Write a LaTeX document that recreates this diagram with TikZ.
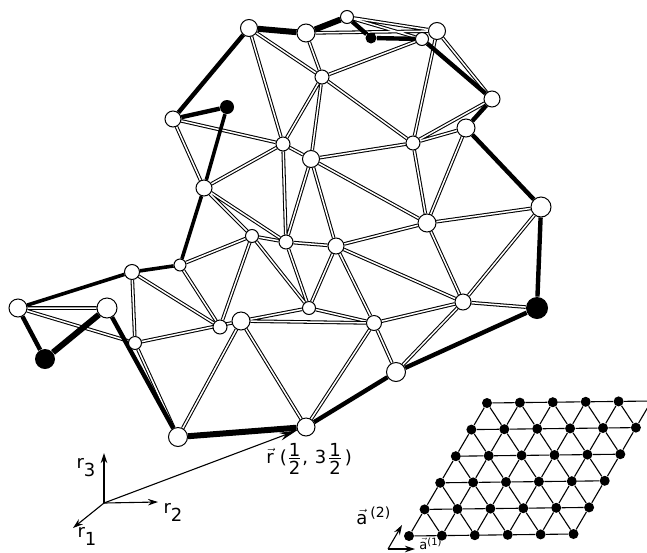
\documentclass[tikz,border=0pt]{standalone}
\usepackage{fontspec}
\setsansfont{DejaVu Sans}
\usetikzlibrary{arrows.meta, positioning, backgrounds}
\newcommand\half{$\vcenter{\offinterlineskip\ialign{\hfil##\hfil\cr 1\cr\noalign{\kern1.5pt\hrule height 1pt\kern1.5pt}2\cr}}$}
\newcommand\sublab[2]{#1\raisebox{-8pt}{#2}}
\tikzset{
  every picture/.style={font=\sffamily, line width=0.8pt},
  atom/.style={circle, draw, fill=white, inner sep=0pt, line width=1pt, minimum size=#1},
  solid/.style={circle, fill=black, inner sep=0pt, minimum size=#1},
  dot/.style={circle, fill=black, inner sep=0pt, minimum size=10pt},
  rod/.style={draw=black, line width=1.05pt, double=white, double distance=1.5pt},
  rim/.style={draw=black, line width=#1},
  rim/.default=4.4pt,
  bond/.style={draw=black, line width=1.1pt},
  arrow/.style={-{Stealth[length=10pt, width=6.5pt]}, draw=black, line width=1.1pt},
  bigarrow/.style={-{Stealth[length=18pt, width=8pt]}, draw=black, line width=1.1pt},
  note/.style={font=\sffamily\fontsize{18}{21}\selectfont, inner sep=0pt},
  smallnote/.style={font=\sffamily\fontsize{13}{15}\selectfont, inner sep=0pt},
}
\begin{document}
\begin{tikzpicture}[x=1pt, y=-1pt]
  \useasboundingbox (0,0) rectangle (647,552);
  \foreach \name/\x/\y/\d in {t1/249/28/17, t2/306/33/18, t3/347/17/13, t4/437/31/17, t5/422/39/13,
    c1/322/77/14, c2/283/144/14, c3/311/159/17, c4/413/143/14, c5/427/223/18, c6/336/246/16,
    c7/463/302/16, c8/374/323/15, c9/309/308/13, e1/492/99/16, e2/466/128/18, e3/541/207/20,
    s1/396/372/19, s2/306/427/18, s3/178/437/19, m1/252/236/13, m2/286/242/14, m3/241/321/18,
    m4/220/327/14, w1/173/119/16, w2/204/188/16, w3/180/265/12, w4/132/272/15, w5/135/343/13,
    w6/107/308/20, w7/18/308/18}
    \node[atom=\d pt] (\name) at (\x,\y) {};
  \foreach \name/\x/\y/\d in {b1/371/38/11, b2/227/107/14, b3/537/308/22, b4/45/359/20}
    \node[solid=\d pt] (\name) at (\x,\y) {};
  \foreach \i in {0,...,5}
    \foreach \j in {0,...,5} {
      \ifnum\numexpr\i+\j\relax=10
        \coordinate (L\i\j) at ({409+32.9*\i+15.6*\j},{536-0.4*\i-26.6*\j});
      \else
        \node[dot] (L\i\j) at ({409+32.9*\i+15.6*\j},{536-0.4*\i-26.6*\j}) {};
      \fi
    }
  \begin{scope}[on background layer]
    \draw[rod] (t1) -- (c1) (t1) -- (c2) (t2) -- (t4) (t2) -- (c1) (t3) -- (t4) (t3) -- (t5)
      (t5) -- (c1) (t4) -- (c4) (t4) -- (e1) (c1) -- (c4) (c1) -- (c2) (c1) -- (c3);
    \draw[rod] (w1) -- (c2) (w1) -- (w2) (c2) -- (c3) (c2) -- (w2) (c2) -- (m2) (c3) -- (m2)
      (c3) -- (c6) (c3) -- (c5) (c3) -- (c4) (c4) -- (e1) (c4) -- (e2) (c4) -- (c5) (e2) -- (c5);
    \draw[rod] (w2) -- (m1) (w2) -- (m2) (c5) -- (e3) (c5) -- (c6) (c5) -- (c7) (e3) -- (c7)
      (c7) -- (b3) (c7) -- (c6) (c7) -- (c8) (c7) -- (s1) (c8) -- (s1) (c8) -- (c6) (c8) -- (c9);
    \draw[rod] (c8) -- (m3) (c8) -- (s2) (c6) -- (m2) (c6) -- (c9) (m2) -- (m1) (m2) -- (c9)
      (m1) -- (c9) (m1) -- (w3) (m1) -- (m4) (m3) -- (c9) (m3) -- (s3) (m3) -- (s2) (m3) -- (w5);
    \draw[rod] (w3) -- (m4) (w4) -- (m4) (w4) -- (w5) (w5) -- (w7) (w7) -- (w6) (w5) -- (s3);
    \draw[rim=6pt] (t1) -- (t2) (t2) -- (t3) (b4) -- (w6) (s3) -- (s2);
    \draw[rim] (b2) -- (w1) (w1) -- (t1) (t3) -- (b1) (b1) -- (t5) (t5) -- (e1) (e1) -- (e2)
      (e2) -- (e3) (e3) -- (b3) (b3) -- (s1) (s1) -- (s2) (s3) -- (w6) (b4) -- (w7);
    \draw[rim=3.6pt] (b2) -- (w2) (w2) -- (w3) (w3) -- (w4) (w4) -- (w7);
    \foreach \i in {0,...,5}
      \foreach \j in {0,...,5} {
        \ifnum\i<5 \draw[bond] (L\i\j) -- (L\the\numexpr\i+1\relax\j); \fi
        \ifnum\j<5 \draw[bond] (L\i\j) -- (L\i\the\numexpr\j+1\relax); \fi
        \ifnum\i>0 \ifnum\j<5
          \draw[bond] (L\i\j) -- (L\the\numexpr\i-1\relax\the\numexpr\j+1\relax);
        \fi \fi
      }
  \end{scope}
  \coordinate (org) at (104,503);
  \coordinate (r1tip) at (73,528);
  \coordinate (r2tip) at (158,502);
  \coordinate (r3tip) at (104,453);
  \draw[arrow] (org) -- (r1tip);
  \draw[arrow] (org) -- (r2tip);
  \draw[arrow] (org) -- (r3tip);
  \draw[bigarrow] (org) -- (s2);
  \node[note] (r1lab) at (87,536) {\sublab{r}{1}};
  \node[note] (r2lab) at (173,512) {\sublab{r}{2}};
  \node[note] (r3lab) at (86,468) {\sublab{r}{3}};
  \node[note, anchor=west] (rlab) at (266,459) {$\vec{\mathsf{r}}$\hspace{6pt}(\hspace{2pt}\half\hspace{2pt},\hspace{7pt}3\hspace{3pt}\half\hspace{4pt})};
  \coordinate (aorg) at (388,549);
  \coordinate (a1tip) at (415,549);
  \coordinate (a2tip) at (402,525);
  \draw[arrow] (aorg) -- (a1tip);
  \draw[arrow] (aorg) -- (a2tip);
  \node[note, anchor=base west] (a2lab) at (356,524) {$\vec{\mathsf{a}}$\hspace{3pt}\raisebox{7pt}{\fontsize{14}{14}\selectfont(2)}};
  \node[smallnote, anchor=base west] (a1lab) at (419,549) {$\vec{\mathsf{a}}$\raisebox{4pt}{\fontsize{10}{10}\selectfont(1)}};
\end{tikzpicture}
\end{document}
